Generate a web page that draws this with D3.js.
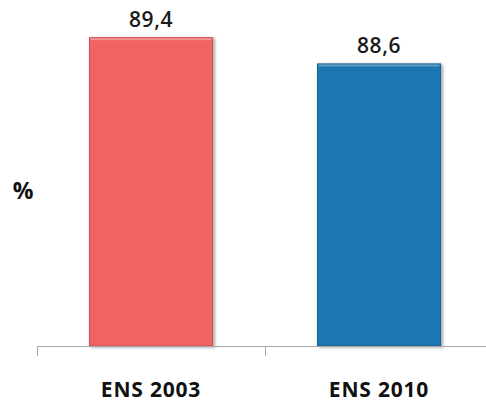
<!DOCTYPE html>
<html>
<head>
<meta charset="utf-8">
<script src="https://cdn.jsdelivr.net/npm/d3@7"></script>
<style>
  html, body { margin: 0; padding: 0; background: #fff; }
  svg { display: block; }
</style>
</head>
<body>
<svg id="chart" width="486" height="406"></svg>
<script>
// Survey editions and their percentages
const categories = ["ENS 2003", "ENS 2010"];
const values = [89.4, 88.6];
const valueLabels = ["89,4", "88,6"];
const barColors = ["#F06362", "#1F76B1"];
const barStrokes = ["#C85050", "#17608F"];
const yDomain = [80, 90];
const axisTitle = "%";

const svg = d3.select("#chart");
const font = "'Open Sans', Lato, 'Liberation Sans', sans-serif";

const margin = { left: 37, right: -7, top: 18, bottom: 60 };
const width = 486, height = 406;
const baseY = height - margin.bottom;

const x = d3.scaleBand()
  .domain(categories)
  .range([margin.left, width - margin.right])
  .paddingInner(0.46)
  .paddingOuter(0.23);

const y = d3.scaleLinear().domain(yDomain).range([baseY, margin.top]);

// Soft drop shadow for the bars
const defs = svg.append("defs");
const f = defs.append("filter").attr("id", "shadow")
  .attr("x", "-10%").attr("y", "-10%").attr("width", "130%").attr("height", "130%");
f.append("feGaussianBlur").attr("in", "SourceAlpha").attr("stdDeviation", 1.5).attr("result", "b");
f.append("feOffset").attr("in", "b").attr("dx", 2).attr("dy", 1).attr("result", "o");
f.append("feComponentTransfer").attr("in", "o").attr("result", "s")
  .append("feFuncA").attr("type", "linear").attr("slope", 0.35);
const m = f.append("feMerge");
m.append("feMergeNode").attr("in", "s");
m.append("feMergeNode").attr("in", "SourceGraphic");

// Bars
svg.append("g").selectAll("rect")
  .data(values)
  .join("rect")
  .attr("x", (d, i) => x(categories[i]))
  .attr("y", d => y(d))
  .attr("width", x.bandwidth())
  .attr("height", d => baseY - y(d))
  .attr("fill", (d, i) => barColors[i])
  .attr("stroke", (d, i) => barStrokes[i])
  .attr("stroke-width", 1)
  .attr("filter", "url(#shadow)");

// Light bevel along the top of each bar
svg.append("g").selectAll("rect")
  .data(values)
  .join("rect")
  .attr("x", (d, i) => x(categories[i]) + 1)
  .attr("y", d => y(d) + 0.5)
  .attr("width", x.bandwidth() - 2)
  .attr("height", 2)
  .attr("fill", "#fff")
  .attr("opacity", 0.3);

// Value labels
svg.append("g").selectAll("text")
  .data(values)
  .join("text")
  .attr("x", (d, i) => x(categories[i]) + x.bandwidth() / 2)
  .attr("y", d => y(d) - 11)
  .attr("text-anchor", "middle")
  .attr("font-family", font)
  .attr("font-size", 21)
  .attr("font-weight", 600)
  .attr("letter-spacing", 0.6)
  .attr("fill", "#1a1a1a")
  .text((d, i) => valueLabels[i]);

// Category axis
const xAxis = d3.axisBottom(x).tickSize(0).tickFormat(d => d);
const gx = svg.append("g").attr("transform", `translate(0,${baseY})`).call(xAxis);
gx.select(".domain").remove();
gx.selectAll("text")
  .attr("font-family", font)
  .attr("font-size", 21)
  .attr("font-weight", "bold")
  .attr("letter-spacing", 0.8)
  .attr("fill", "#111")
  .attr("dy", 0)
  .attr("y", 51);

// Baseline and tick marks at band boundaries
svg.append("line")
  .attr("x1", margin.left).attr("x2", width)
  .attr("y1", baseY + 0.5).attr("y2", baseY + 0.5)
  .attr("stroke", "#a6a6a6").attr("stroke-width", 1);
const step = x.step();
const boundaries = categories.map((c, i) => margin.left + i * step).concat([margin.left + categories.length * step]);
svg.append("g").selectAll("line")
  .data(boundaries)
  .join("line")
  .attr("x1", d => Math.round(d) + 0.5).attr("x2", d => Math.round(d) + 0.5)
  .attr("y1", baseY).attr("y2", baseY + 10)
  .attr("stroke", "#a6a6a6").attr("stroke-width", 1);

// Axis title
svg.append("text")
  .attr("x", 23)
  .attr("y", 199)
  .attr("text-anchor", "middle")
  .attr("font-family", font)
  .attr("font-size", 23)
  .attr("font-weight", "bold")
  .attr("fill", "#111")
  .text(axisTitle);
</script>
</body>
</html>
